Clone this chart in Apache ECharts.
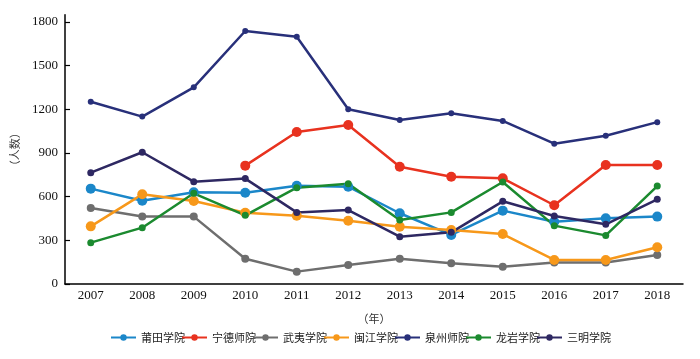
<!DOCTYPE html>
<html>
<head>
<meta charset="utf-8">
<script src="https://cdn.jsdelivr.net/npm/echarts@6/dist/echarts.min.js"></script>
<style>html,body{margin:0;padding:0;background:#fff;}#c{width:700px;height:359px;}</style>
</head>
<body>
<div id="c"></div>
<script>
const years = ['2007','2008','2009','2010','2011','2012','2013','2014','2015','2016','2017','2018'];
const putian   = [655, 572, 630, 627, 675, 668, 486, 337, 504, 428, 451, 463];
const ningde   = [null, null, null, 813, 1044, 1092, 806, 737, 726, 541, 818, 818];
const wuyi     = [522, 463, 463, 174, 85, 131, 174, 142, 119, 147, 147, 199];
const minjiang = [396, 616, 570, 490, 469, 435, 394, 371, 343, 165, 165, 252];
const quanzhou = [1252, 1150, 1351, 1738, 1699, 1200, 1127, 1173, 1120, 964, 1019, 1112];
const longyan  = [284, 387, 623, 472, 662, 689, 440, 492, 701, 401, 334, 673];
const sanming  = [765, 905, 703, 724, 492, 508, 325, 355, 568, 467, 410, 582];
const yTicks = [0, 300, 600, 900, 1200, 1500, 1800];

const chart = echarts.init(document.getElementById('c'));
function s(name, data, color, size) {
  return { name, type: 'line', data, color, symbol: 'circle', symbolSize: size,
    lineStyle: { width: 2.5, color }, itemStyle: { color }, connectNulls: false };
}
chart.setOption({
  animation: false,
  grid: { left: 65, right: 17, top: 14.7, bottom: 75 },
  legend: {
    left: 105, top: 327, itemWidth: 25, itemHeight: 8, itemGap: -4,
    textStyle: { fontSize: 11, color: '#222', fontFamily: 'Noto Sans CJK SC' },
    data: ['莆田学院','宁德师院','武夷学院','闽江学院','泉州师院','龙岩学院','三明学院']
  },
  xAxis: {
    type: 'category', data: years, boundaryGap: true,
    name: '（年）', nameLocation: 'middle', nameGap: 29,
    nameTextStyle: { fontSize: 11, color: '#333', fontFamily: 'Noto Sans CJK SC' },
    axisLine: { lineStyle: { color: '#000', width: 1.5 } },
    axisTick: { inside: true, alignWithLabel: true, length: 6, lineStyle: { color: '#000', width: 1.2 } },
    axisLabel: { fontSize: 13, color: '#111', fontFamily: 'Liberation Serif', margin: 5 }
  },
  yAxis: {
    type: 'value', min: 0, max: 1850, interval: 300,
    name: '（人数）', nameLocation: 'middle', nameGap: 45, nameRotate: 90,
    nameTextStyle: { fontSize: 11, color: '#333', fontFamily: 'Noto Sans CJK SC' },
    axisLine: { show: true, lineStyle: { color: '#000', width: 1.5 } },
    axisTick: { show: true, inside: true, length: 5, lineStyle: { color: '#000', width: 1.2 } },
    splitLine: { show: false },
    axisLabel: { fontSize: 13, color: '#111', fontFamily: 'Liberation Serif', margin: 7, showMaxLabel: false,
      formatter: v => yTicks.includes(v) ? String(v) : '' }
  },
  series: [
    s('莆田学院', putian, '#1b87c9', 10),
    s('宁德师院', ningde, '#e8321f', 10),
    s('武夷学院', wuyi, '#6e6e6e', 8),
    s('闽江学院', minjiang, '#f7981a', 10),
    s('泉州师院', quanzhou, '#28307a', 6),
    s('龙岩学院', longyan, '#1b8a2f', 7),
    s('三明学院', sanming, '#2e2862', 7)
  ]
});
</script>
</body>
</html>
